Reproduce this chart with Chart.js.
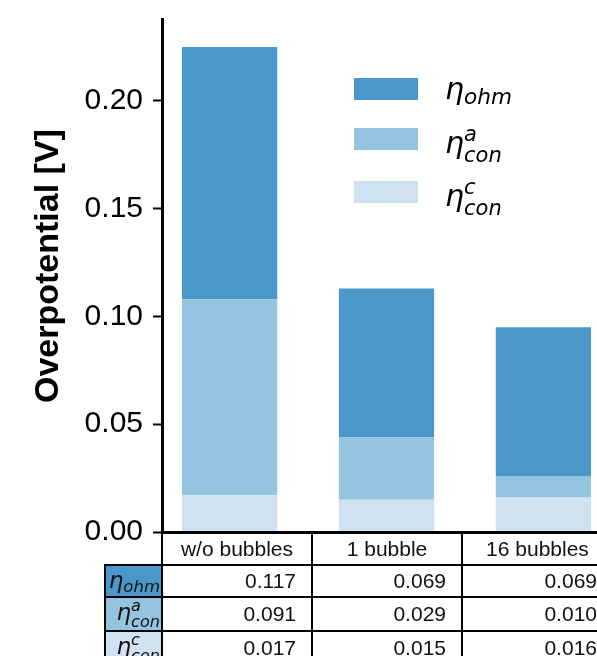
<!DOCTYPE html>
<html>
<head>
<meta charset="utf-8">
<script src="https://cdn.jsdelivr.net/npm/chart.js@4"></script>
<style>
    html, body { margin: 0; padding: 0; background: #fff; }
    body { width: 597px; height: 656px; overflow: hidden; position: relative; font-family: "Liberation Sans", Arial, sans-serif; }
    #chartBox { position: absolute; left: 0; top: 0; width: 611px; height: 562px; }
    .eta { font-family: "DejaVu Sans"; font-style: italic; }
    .ss { display: inline-block; line-height: 1; text-align: left; font-family: "DejaVu Sans"; font-style: italic; }
    .ss span { display: block; }
    #legend { position: absolute; left: 0; top: 0; }
    .legRow { position: absolute; left: 354px; height: 22px; white-space: nowrap; }
    .legPatch { position: absolute; left: 0; top: 0; width: 64px; height: 22px; }
    .legText { position: absolute; left: 91px; font-size: 30px; line-height: 1; }
    #dataTable { position: absolute; left: 104px; top: 531px; width: 508px; border-collapse: collapse; table-layout: fixed; }
    #dataTable td { border: 2px solid #000; padding: 0; font-size: 21px; color: #111; height: 30px; white-space: nowrap; overflow: hidden; }
    #dataTable td.head { text-align: center; }
    #dataTable td.val { text-align: right; padding-right: 15px; }
    #dataTable td.lab { text-align: right; padding-right: 1px; font-size: 23px; }
    #dataTable td.empty { border: none; }
</style>
</head>
<body>
<div id="chartBox"><canvas id="myChart"></canvas></div>
<div id="legend"></div>
<table id="dataTable"></table>
<script>
    // 數據
    var categories = ['w/o bubbles', '1 bubble', '16 bubbles'];
    var ohmData = [0.117, 0.069, 0.069];      // η_ohm
    var conAData = [0.091, 0.029, 0.010];     // η_con^a
    var conCData = [0.017, 0.015, 0.016];     // η_con^c
    var yTicks = [0, 0.05, 0.10, 0.15, 0.20];

    var colorOhm = '#4a98c9';
    var colorConA = '#94c4df';
    var colorConC = '#d0e1f2';

    // 標籤 (html，用於圖例與表格)
    var labelOhm = '<span class="eta">η</span><span class="ss" style="vertical-align:-0.22em;font-size:0.72em">ohm</span>';
    var labelConA = '<span class="eta">η</span><span class="ss" style="vertical-align:-0.45em;font-size:0.7em"><span>a</span><span>con</span></span>';
    var labelConC = '<span class="eta">η</span><span class="ss" style="vertical-align:-0.45em;font-size:0.7em"><span>c</span><span>con</span></span>';

    function toPoints(arr) {
        return arr.map((v, i) => ({ x: i, y: v }));
    }

    var ctx = document.getElementById('myChart').getContext('2d');
    var myChart = new Chart(ctx, {
        type: 'bar',
        data: {
            datasets: [
                { label: 'con_c', data: toPoints(conCData), backgroundColor: colorConC, borderWidth: 0 },
                { label: 'con_a', data: toPoints(conAData), backgroundColor: colorConA, borderWidth: 0 },
                { label: 'ohm', data: toPoints(ohmData), backgroundColor: colorOhm, borderWidth: 0 }
            ]
        },
        options: {
            responsive: true,
            maintainAspectRatio: false,
            animation: false,
            layout: { padding: { top: 19, bottom: 30, left: 0, right: 0 } },
            datasets: { bar: { categoryPercentage: 1, barPercentage: 0.607 } },
            scales: {
                x: {
                    type: 'linear',
                    stacked: true,
                    offset: false,
                    min: -0.431,
                    max: 2.431,
                    display: false,
                    afterBuildTicks: function (scale) {
                        scale.ticks = categories.map((c, i) => ({ value: i }));
                    }
                },
                y: {
                    stacked: true,
                    min: 0,
                    max: 0.238,
                    afterFit: function (scale) {
                        scale.width = 162;
                        scale.paddingTop = 0;
                        scale.paddingBottom = 0;
                    },
                    afterBuildTicks: function (scale) {
                        scale.ticks = yTicks.map(v => ({ value: v }));
                    },
                    ticks: {
                        color: '#000',
                        padding: 10,
                        font: { family: 'Liberation Sans', size: 30 },
                        callback: function (value) { return Number(value).toFixed(2); }
                    },
                    grid: {
                        drawOnChartArea: false,
                        tickLength: 9,
                        tickWidth: 2,
                        color: '#000'
                    },
                    border: { width: 3, color: '#000' },
                    title: {
                        display: true,
                        text: '  Overpotential [V]',
                        color: '#000',
                        font: { family: 'Liberation Sans', size: 34, weight: 'bold' },
                        padding: { top: 28, bottom: 0 }
                    }
                }
            },
            plugins: {
                legend: { display: false },
                tooltip: { enabled: false }
            }
        }
    });

    // 圖例
    var legendItems = [
        { html: labelOhm, color: colorOhm, top: 78 },
        { html: labelConA, color: colorConA, top: 128 },
        { html: labelConC, color: colorConC, top: 181 }
    ];
    var legendEl = document.getElementById('legend');
    legendItems.forEach(item => {
        var row = document.createElement('div');
        row.className = 'legRow';
        row.style.top = item.top + 'px';
        row.innerHTML = '<div class="legPatch" style="background:' + item.color + '"></div>' +
            '<div class="legText" style="top:-4px">' + item.html + '</div>';
        legendEl.appendChild(row);
    });

    // 表格
    var rows = [
        { html: labelOhm, color: colorOhm, data: ohmData },
        { html: labelConA, color: colorConA, data: conAData },
        { html: labelConC, color: colorConC, data: conCData }
    ];
    var tableHtml = '<colgroup><col style="width:57px"><col style="width:150px"><col style="width:150px"><col style="width:151px"></colgroup>';
    tableHtml += '<tr><td class="empty" style="height:31px"></td>' + categories.map(c => '<td class="head" style="border-top:3px solid #000">' + c + '</td>').join('') + '</tr>';
    rows.forEach(r => {
        tableHtml += '<tr><td class="lab" style="background:' + r.color + '">' + r.html + '</td>' +
            r.data.map(v => '<td class="val">' + v.toFixed(3) + '</td>').join('') + '</tr>';
    });
    document.getElementById('dataTable').innerHTML = tableHtml;
</script>
</body>
</html>
